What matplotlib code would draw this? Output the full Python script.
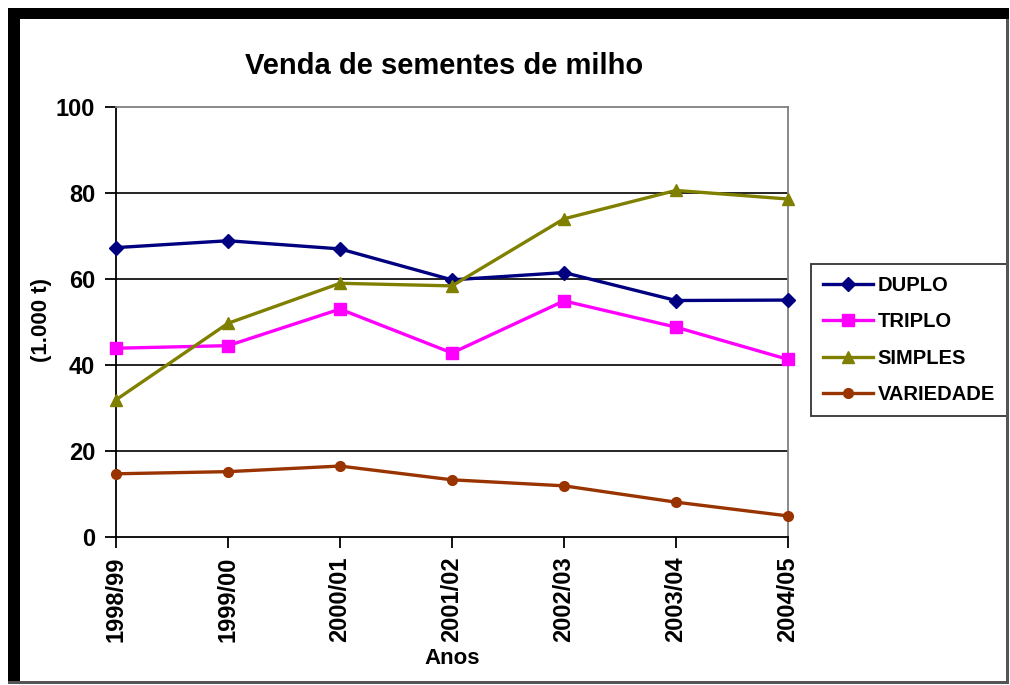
import matplotlib
matplotlib.use("Agg")
import matplotlib.pyplot as plt
from matplotlib.patches import Rectangle

categories = ["1998/99", "1999/00", "2000/01", "2001/02", "2002/03", "2003/04", "2004/05"]
duplo = [67.3, 68.9, 67.0, 59.8, 61.5, 55.0, 55.1]
triplo = [43.9, 44.5, 53.0, 42.8, 54.9, 48.8, 41.3]
simples = [31.9, 49.7, 59.0, 58.4, 74.0, 80.6, 78.6]
variedade = [14.7, 15.2, 16.5, 13.3, 11.9, 8.1, 4.9]
yticks = [0, 20, 40, 60, 80, 100]

plt.rcParams['font.family'] = ['Liberation Sans', 'DejaVu Sans']

W, H = 1010, 685
fig = plt.figure(figsize=(W / 100, H / 100), dpi=100)
fig.patch.set_facecolor("white")

def px_rect(x0, y0, x1, y1, color):
    fig.patches.append(Rectangle((x0 / W, 1 - y1 / H), (x1 - x0) / W, (y1 - y0) / H,
                                 transform=fig.transFigure, facecolor=color,
                                 edgecolor="none", zorder=0))

# outer frame: thick black top/left, thin grey right/bottom
px_rect(8, 8, 1009, 19, "black")
px_rect(8, 8, 20, 684, "black")
px_rect(1006, 19, 1009, 684, "#555555")
px_rect(8, 681, 1009, 684, "#555555")

ax = fig.add_axes([116 / W, 1 - 537 / H, (788 - 116) / W, (537 - 107) / H])
x = list(range(len(categories)))

series = [
    ("DUPLO", duplo, "#000080", "D", 7),
    ("TRIPLO", triplo, "#FF00FF", "s", 9),
    ("SIMPLES", simples, "#808000", "^", 9),
    ("VARIEDADE", variedade, "#993300", "o", 7),
]
for name, vals, col, mk, ms in series:
    ax.plot(x, vals, color=col, lw=2.4, marker=mk, markersize=ms,
            markerfacecolor=col, markeredgecolor=col, label=name, clip_on=False, zorder=3)

ax.set_xlim(0, 6)
ax.set_ylim(0, 100)
ax.set_yticks(yticks)
ax.set_xticks(x)
ax.set_xticklabels(categories, rotation=90, fontsize=17, fontweight="bold")
for lab in ax.get_yticklabels():
    lab.set_fontsize(17)
    lab.set_fontweight("bold")

ax.tick_params(axis="y", direction="out", length=8, width=1.3, pad=7)
ax.tick_params(axis="x", direction="out", length=8, width=1.3, pad=6)

for yv in yticks[1:-1]:
    ax.axhline(yv, color="black", lw=1.2, zorder=1)

ax.spines["left"].set_color("black")
ax.spines["left"].set_linewidth(1.3)
ax.spines["bottom"].set_color("black")
ax.spines["bottom"].set_linewidth(1.3)
ax.spines["top"].set_color("#808080")
ax.spines["right"].set_color("#808080")
ax.spines["top"].set_linewidth(1.3)
ax.spines["right"].set_linewidth(1.3)

ax.set_xlabel("Anos", fontsize=16, fontweight="bold", labelpad=4)
ax.set_ylabel("(1.000 t)", fontsize=16, fontweight="bold")
ax.yaxis.set_label_coords((41 - 116) / (788 - 116), (537 - 320) / (537 - 107))
ax.yaxis.label.set_va("center")

fig.text(444 / W, 1 - 66 / H, "Venda de sementes de milho", fontsize=21,
         fontweight="bold", ha="center", va="center")

leg = ax.legend(loc="center left", bbox_to_anchor=(811 / W, 1 - 340 / H),
                bbox_transform=fig.transFigure, frameon=True, fancybox=False,
                edgecolor="black", prop={"weight": "bold", "size": 14.5},
                handlelength=2.5, handletextpad=0.2, borderpad=0.6, labelspacing=0.85,
                borderaxespad=0)
leg.get_frame().set_linewidth(1.3)

fig.savefig("out.png", dpi=100, facecolor="white")
